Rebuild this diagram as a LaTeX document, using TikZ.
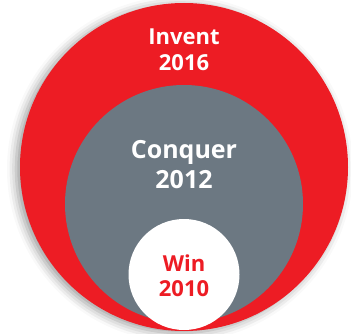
\documentclass[tikz,border=0pt]{standalone}
\usepackage{fontspec}
\setmainfont{Open Sans}
\usepackage{xcolor}
\usepackage{tikz}
\usetikzlibrary{positioning,shadows.blur}

\definecolor{inventred}{HTML}{ED1C24}
\definecolor{conquergrey}{HTML}{6C7882}

\begin{document}
\begin{tikzpicture}[
ring/.style={circle, draw=none, inner sep=0pt},
stage/.style={align=center, font=\fontsize{22}{26}\selectfont\bfseries, inner sep=0pt},
empty/.style=
]
\useasboundingbox (0,0) rectangle (351pt,333pt);
\node[ring, fill=inventred, minimum size=328pt, blur shadow={shadow xshift=-4pt, shadow yshift=-2pt, shadow blur radius=9pt, shadow opacity=40}](invent_ring) at (184pt,166pt){};
\node[ring, fill=conquergrey, minimum size=238pt](conquer_ring)[below of = invent_ring, node distance=37pt]{};
\node[ring, fill=white, minimum size=111pt](win_ring)[below of = conquer_ring, node distance=70.5pt]{};

\node[stage, text=white](invent)[above of = invent_ring, node distance=117pt]{Invent\\2016};
\node[stage, text=white, font=\fontsize{25}{30}\selectfont\bfseries](conquer)[above of = conquer_ring, node distance=39pt]{Conquer\\2012};
\node[stage, text=inventred, font=\fontsize{22}{25}\selectfont\bfseries](win)[above of = win_ring, node distance=-1pt]{Win\\2010};

\end{tikzpicture}
\end{document}
